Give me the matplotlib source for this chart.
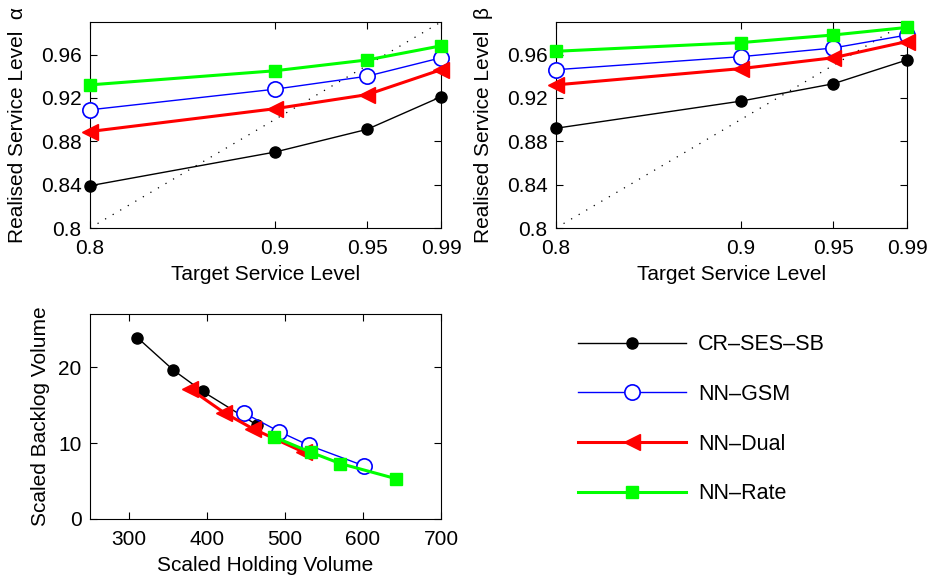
import matplotlib
matplotlib.use("Agg")
import matplotlib.pyplot as plt

plt.rcParams['font.family'] = ['Liberation Sans', 'DejaVu Sans']
plt.rcParams['font.size'] = 15

targets = [0.8, 0.9, 0.95, 0.99]
names = ['CR\u2013SES\u2013SB', 'NN\u2013GSM', 'NN\u2013Dual', 'NN\u2013Rate']

# realised alpha service level
alpha_cr = [0.839, 0.870, 0.891, 0.921]
alpha_gsm = [0.909, 0.928, 0.940, 0.957]
alpha_dual = [0.889, 0.910, 0.923, 0.946]
alpha_rate = [0.932, 0.945, 0.955, 0.968]

# realised beta service level
beta_cr = [0.892, 0.917, 0.933, 0.955]
beta_gsm = [0.946, 0.958, 0.966, 0.978]
beta_dual = [0.932, 0.947, 0.957, 0.972]
beta_rate = [0.963, 0.971, 0.978, 0.985]

# holding vs backlog volumes
hold_cr = [310.6, 357, 394.5, 463.8]
back_cr = [23.9, 19.6, 16.8, 12.4]
hold_gsm = [446.8, 492.8, 530.6, 601.3]
back_gsm = [14.0, 11.5, 9.7, 7.0]
hold_dual = [378.7, 422, 458.7, 524]
back_dual = [17.1, 14.0, 11.9, 8.8]
hold_rate = [486, 532.8, 571, 642.6]
back_rate = [10.8, 8.8, 7.3, 5.3]

styles = [
    dict(color='k', lw=1.0, marker='o', ms=8, mfc='k', mec='k'),
    dict(color='b', lw=1.0, marker='o', ms=11, mfc='w', mec='b', mew=1.2),
    dict(color='r', lw=2.2, marker='<', ms=11, mfc='r', mec='r'),
    dict(color=(0, 1, 0), lw=2.2, marker='s', ms=9, mfc=(0, 1, 0), mec=(0, 1, 0)),
]

W, H = 932, 582
fig = plt.figure(figsize=(W / 100, H / 100), dpi=100)


def box(l, t, r, b):
    return [l / W, 1 - b / H, (r - l) / W, (b - t) / H]


def matlab_ticks(ax):
    ax.tick_params(direction='in', top=True, right=True, length=5, width=0.8)
    ax.tick_params(axis='x', pad=8)
    ax.tick_params(axis='y', pad=6)
    for s in ax.spines.values():
        s.set_linewidth(0.8)


def service_plot(ax, series, letter):
    ax.plot([0.8, 0.99], [0.8, 0.99], color='k', lw=0.9, ls=(0, (1, 6)))
    for ys, st, nm in zip(series, styles, names):
        ax.plot(targets, ys, label=nm, clip_on=False, zorder=3, **st)
    ax.set_xlim(0.8, 0.99)
    ax.set_ylim(0.8, 0.99)
    ax.set_xticks(targets)
    ax.set_xticklabels(['0.8', '0.9', '0.95', '0.99'])
    ax.set_yticks([0.8, 0.84, 0.88, 0.92, 0.96])
    ax.set_yticklabels(['0.8', '0.84', '0.88', '0.92', '0.96'])
    matlab_ticks(ax)
    ax.set_xlabel('Target Service Level', labelpad=5)
    ax.set_ylabel('Realised Service Level  ' + letter, labelpad=10)


ax1 = fig.add_axes(box(90, 22, 441, 228))
service_plot(ax1, [alpha_cr, alpha_gsm, alpha_dual, alpha_rate], '\u03b1')

ax2 = fig.add_axes(box(556, 22, 907, 228))
service_plot(ax2, [beta_cr, beta_gsm, beta_dual, beta_rate], '\u03b2')

ax3 = fig.add_axes(box(90, 314, 441, 519))
for xs, ys, st, nm in zip([hold_cr, hold_gsm, hold_dual, hold_rate],
                          [back_cr, back_gsm, back_dual, back_rate], styles, names):
    ax3.plot(xs, ys, label=nm, **st)
ax3.set_xlim(250, 700)
ax3.set_ylim(0, 27)
ax3.set_xticks([300, 400, 500, 600, 700])
ax3.set_yticks([0, 10, 20])
matlab_ticks(ax3)
ax3.set_xlabel('Scaled Holding Volume', labelpad=5)
ax3.set_ylabel('Scaled Backlog Volume', labelpad=6)

handles, labels = ax3.get_legend_handles_labels()
fig.legend(handles, labels, loc='upper left', bbox_to_anchor=(559 / W, 1 - 315 / H),
           frameon=False, fontsize=15.5, handlelength=5.0, handletextpad=0.55,
           labelspacing=1.33, numpoints=1)

fig.savefig('out.png', dpi=100)
